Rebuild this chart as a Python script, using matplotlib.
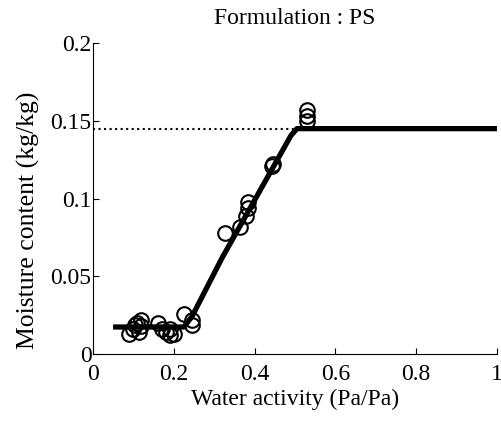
import matplotlib
matplotlib.use('Agg')
import matplotlib.pyplot as plt
from matplotlib.ticker import FixedLocator

plt.rcParams['font.family'] = 'Liberation Serif'

# measured sorption points (water activity, moisture content)
aw_mesure = [0.09, 0.10, 0.105, 0.11, 0.115, 0.12, 0.12, 0.16, 0.17, 0.18, 0.19, 0.19, 0.20,
             0.225, 0.245, 0.245, 0.326, 0.363, 0.378, 0.383, 0.385, 0.444, 0.446,
             0.531, 0.531, 0.531]
x_mesure = [0.013, 0.016, 0.019, 0.020, 0.014, 0.018, 0.022, 0.020, 0.016, 0.014, 0.016, 0.012, 0.013,
            0.026, 0.022, 0.019, 0.078, 0.082, 0.089, 0.094, 0.098, 0.121, 0.122,
            0.157, 0.153, 0.150]

# fitted isotherm
aw_modele = [0.05, 0.225, 0.245, 0.32, 0.45, 0.49, 0.505, 1.0]
x_modele = [0.0174, 0.0174, 0.024, 0.062, 0.122, 0.1405, 0.145, 0.145]

x_sat = 0.145
aw_sat = 0.505

fig = plt.figure(figsize=(5.02, 4.23), dpi=100)
ax = fig.add_axes([0.185, 0.163, 0.805, 0.735])

ax.plot([0, aw_sat], [x_sat, x_sat], color='black', linestyle=':', linewidth=1.5)
ax.plot(aw_mesure, x_mesure, 'o', markerfacecolor='none', markeredgecolor='black',
        markersize=10.5, markeredgewidth=1.5)
ax.plot(aw_modele, x_modele, color='black', linewidth=3.8, solid_capstyle='butt')

ax.set_xlim(0, 1)
ax.set_ylim(0, 0.2)
ax.xaxis.set_major_locator(FixedLocator([0, 0.2, 0.4, 0.6, 0.8, 1.0]))
ax.yaxis.set_major_locator(FixedLocator([0, 0.05, 0.1, 0.15, 0.2]))
ax.set_xticklabels(['0', '0.2', '0.4', '0.6', '0.8', '1'])
ax.set_yticklabels(['0', '0.05', '0.1', '0.15', '0.2'])
ax.tick_params(direction='in', length=4, labelsize=17)
ax.tick_params(axis='x', pad=7)
ax.tick_params(axis='y', pad=1)
ax.spines['top'].set_visible(False)
ax.spines['right'].set_visible(False)

ax.set_xlabel('Water activity (Pa/Pa)', fontsize=17, labelpad=3)
ax.set_ylabel('Moisture content (kg/kg)', fontsize=18.5, va='center')
ax.yaxis.set_label_coords(-0.16, 0.43)
ax.set_title('Formulation : PS', fontsize=17, pad=14)

fig.savefig('out.png', dpi=100)
